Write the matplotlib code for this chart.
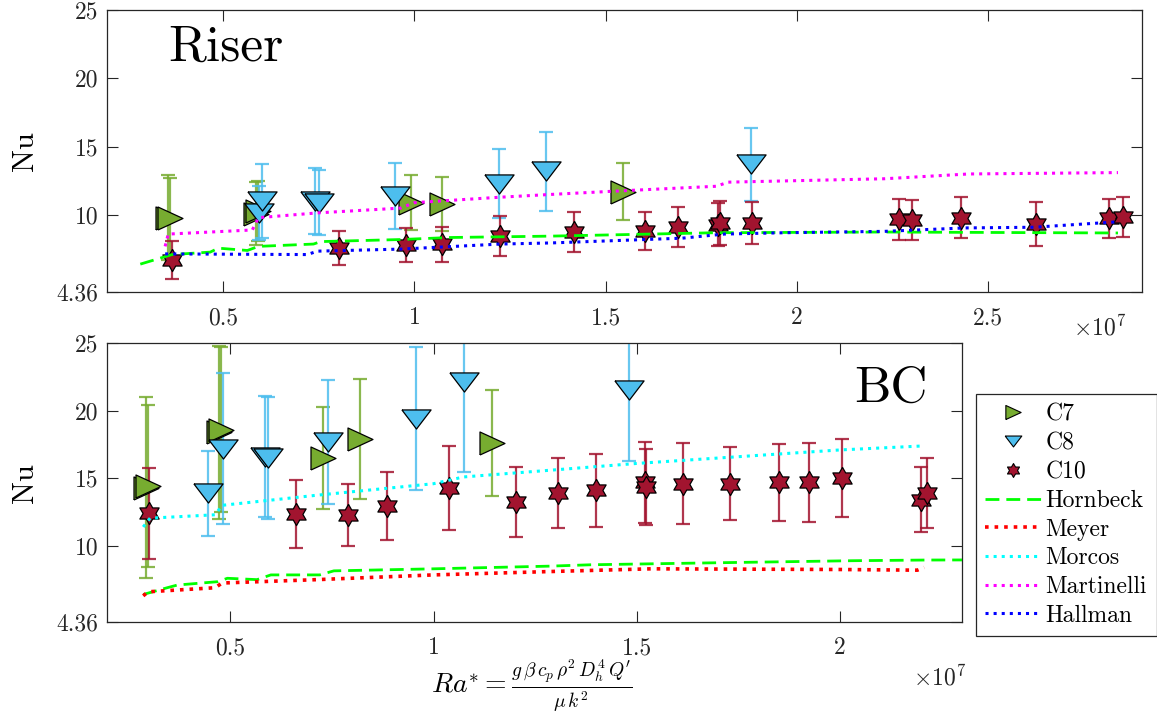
import numpy as np
import matplotlib as mpl
import matplotlib.pyplot as plt
from matplotlib.lines import Line2D

mpl.rcParams['font.family'] = 'serif'
mpl.rcParams['font.serif'] = ['cmr10', 'DejaVu Serif']
mpl.rcParams['mathtext.fontset'] = 'cm'
mpl.rcParams['axes.unicode_minus'] = False
mpl.rcParams['axes.formatter.use_mathtext'] = True

# Ra* in units of 1e7
# --- Riser ---
c7_r_x = [0.355, 0.360, 0.585, 0.592, 0.990, 1.073, 1.545]
c7_r_y = [9.8, 9.8, 10.1, 10.3, 10.9, 10.8, 11.7]
c7_r_e = [3.1, 2.9, 2.3, 2.2, 2.0, 2.0, 2.1]

c8_r_x = [0.594, 0.602, 0.740, 0.750, 0.948, 1.220, 1.343, 1.880]
c8_r_y = [10.15, 11.0, 11.0, 10.9, 11.4, 12.3, 13.2, 13.7]
c8_r_e = [1.95, 2.7, 2.4, 2.4, 2.4, 2.5, 2.9, 2.7]

c10_r_x = [0.366, 0.804, 0.979, 1.073, 1.223, 1.416, 1.602, 1.690, 1.793, 1.800,
           1.882, 2.267, 2.300, 2.430, 2.626, 2.817, 2.853]
c10_r_y = [6.7, 7.57, 7.8, 7.85, 8.45, 8.75, 8.8, 9.1, 9.3, 9.4,
           9.4, 9.7, 9.63, 9.8, 9.35, 9.75, 9.85]
c10_r_e = [1.4, 1.25, 1.25, 1.3, 1.45, 1.45, 1.4, 1.45, 1.6, 1.6,
           1.55, 1.5, 1.5, 1.5, 1.6, 1.45, 1.45]

hb_r_x = [0.283, 0.366, 0.466, 0.487, 0.563, 0.592, 0.736, 0.755, 0.963, 1.094, 1.356, 1.79, 2.23, 2.84]
hb_r_y = [6.4, 7.1, 7.28, 7.57, 7.4, 7.7, 7.87, 8.05, 8.2, 8.35, 8.45, 8.7, 8.75, 8.68]

hl_r_x = [0.348, 0.72, 0.746, 0.963, 1.07, 1.225, 1.356, 1.70, 1.81, 1.97, 2.23, 2.44, 2.62, 2.84]
hl_r_y = [7.15, 7.1, 7.35, 7.5, 7.65, 7.87, 7.95, 8.3, 8.6, 8.7, 8.8, 9.05, 9.1, 9.5]

mt_r_x = [0.348, 0.356, 0.576, 0.592, 0.746, 0.963, 1.0, 1.225, 1.356, 1.53, 1.79, 1.82, 2.23, 2.45, 2.84]
mt_r_y = [7.7, 8.6, 8.9, 9.8, 10.15, 10.5, 10.9, 11.3, 11.5, 11.75, 12.1, 12.4, 12.65, 13.0, 13.1]

# --- BC ---
c7_b_x = [0.293, 0.298, 0.472, 0.478, 0.727, 0.820, 1.143]
c7_b_y = [14.3, 14.4, 18.4, 18.6, 16.5, 17.9, 17.6]
c7_b_e = [6.7, 6.0, 6.4, 6.1, 3.8, 4.45, 3.9]

c8_b_x = [0.446, 0.483, 0.586, 0.593, 0.741, 0.956, 1.074, 1.480]
c8_b_y = [13.9, 17.2, 16.6, 16.5, 17.7, 19.4, 22.1, 21.5]
c8_b_e = [3.15, 5.6, 4.5, 4.5, 4.6, 5.3, 6.6, 5.2]

c10_b_x = [0.300, 0.663, 0.790, 0.886, 1.037, 1.204, 1.305, 1.400, 1.520, 1.522,
           1.613, 1.730, 1.850, 1.923, 2.005, 2.200, 2.214]
c10_b_y = [12.4, 12.35, 12.3, 12.95, 14.3, 13.25, 13.9, 14.1, 14.7, 14.35,
           14.6, 14.6, 14.7, 14.7, 15.0, 13.4, 13.9]
c10_b_e = [3.35, 2.5, 2.3, 2.55, 3.1, 2.6, 2.6, 2.7, 3.0, 2.8,
           3.0, 2.7, 2.85, 2.9, 2.9, 2.4, 2.6]

mc_b_x = [0.286, 0.303, 0.463, 0.480, 0.714, 1.0, 1.074, 1.288, 1.50, 2.0, 2.207]
mc_b_y = [11.4, 12.05, 12.3, 13.0, 13.75, 14.6, 15.1, 15.6, 16.1, 17.1, 17.4]

hb_b_x = [0.286, 0.345, 0.37, 0.47, 0.493, 0.566, 0.6, 0.72, 0.755, 1.0, 1.288, 1.387, 1.7, 2.03, 2.21, 2.85]
hb_b_y = [6.4, 6.9, 7.1, 7.35, 7.6, 7.5, 7.85, 7.85, 8.15, 8.3, 8.5, 8.6, 8.75, 8.9, 8.95, 9.0]

my_b_x = [0.286, 0.298, 0.463, 0.48, 0.714, 1.0, 1.288, 1.535, 2.0, 2.19, 2.207]
my_b_y = [6.3, 6.6, 6.9, 7.25, 7.5, 7.85, 8.1, 8.3, 8.25, 8.2, 8.4]

yticks = [4.36, 10, 15, 20, 25]
ytick_labels = ['4.36', '10', '15', '20', '25']
xticks_r = [0.5, 1, 1.5, 2, 2.5]
xticks_b = [0.5, 1, 1.5, 2]

col7 = '#77AC30'
col8 = '#4DBEEE'
col10 = '#A2142F'

tri_right = [(-12.5, -11.5), (-12.5, 11.5), (12.5, 0), (-12.5, -11.5)]
tri_down = [(-14.5, 9.5), (14.5, 9.5), (0, -9.5), (-14.5, 9.5)]
ang = np.pi / 2 + np.arange(12) * np.pi / 6
rad = np.where(np.arange(12) % 2 == 0, 1.0, 0.577)
hexagram = list(zip(rad * np.cos(ang), rad * np.sin(ang)))
hexagram.append(hexagram[0])


def draw_points(ax, x, y, e, col, mk, ms):
    ax.errorbar(x, y, yerr=e, fmt='none', ecolor=col, elinewidth=1.6,
                capsize=5, capthick=1.6, alpha=0.85, zorder=2)
    ax.plot(x, y, ls='none', marker=mk, ms=ms, mfc=col, mec='k', mew=0.9, zorder=3)


def style_axes(ax, xlim, xticks):
    ax.set_xlim(*xlim)
    ax.set_ylim(4.36, 25)
    ax.set_xticks(xticks)
    ax.set_xticklabels([f'{t:g}' for t in xticks])
    ax.set_yticks(yticks)
    ax.set_yticklabels(ytick_labels)
    ax.tick_params(direction='in', length=8, width=0.8, top=True, right=True,
                   labelsize=17, colors='#262626')
    ax.tick_params(axis='x', pad=11)
    ax.tick_params(axis='y', pad=6)
    for s in ax.spines.values():
        s.set_color('#262626')
        s.set_linewidth(0.9)
    ax.set_ylabel('Nu', fontsize=22, labelpad=13)


fig = plt.figure(figsize=(11.57, 7.15), dpi=100)
ax1 = fig.add_axes([0.0925, 0.5916, 0.8946, 0.3944])
ax2 = fig.add_axes([0.0925, 0.130, 0.739, 0.390])

# Riser
draw_points(ax1, c7_r_x, c7_r_y, c7_r_e, col7, tri_right, 18)
draw_points(ax1, c8_r_x, c8_r_y, c8_r_e, col8, tri_down, 21)
draw_points(ax1, c10_r_x, c10_r_y, c10_r_e, col10, hexagram, 16)
ax1.plot(hb_r_x, hb_r_y, color='#00FF00', ls=(0, (5, 2.5)), lw=2, zorder=4)
ax1.plot(mt_r_x, mt_r_y, color='#FF00FF', ls=':', lw=2.2, zorder=4)
ax1.plot(hl_r_x, hl_r_y, color='#0000FF', ls=':', lw=2.2, zorder=4)
style_axes(ax1, (0.196, 2.903), xticks_r)
ax1.text(0.059, 0.82, 'Riser', transform=ax1.transAxes, fontsize=37)
fig.text(1100 / 1157, 1 - 328 / 715, r'$\times 10^7$', fontsize=17,
         ha='center', va='center', color='#262626')

# BC
draw_points(ax2, c7_b_x, c7_b_y, c7_b_e, col7, tri_right, 18)
draw_points(ax2, c8_b_x, c8_b_y, c8_b_e, col8, tri_down, 21)
draw_points(ax2, c10_b_x, c10_b_y, c10_b_e, col10, hexagram, 16)
ax2.plot(hb_b_x, hb_b_y, color='#00FF00', ls=(0, (5, 2.5)), lw=2, zorder=4)
ax2.plot(my_b_x, my_b_y, color='#FF0000', ls=':', lw=2.6, zorder=4)
ax2.plot(mc_b_x, mc_b_y, color='#00FFFF', ls=':', lw=2.2, zorder=4)
style_axes(ax2, (0.197, 2.30), xticks_b)
ax2.text(0.96, 0.79, 'BC', transform=ax2.transAxes, fontsize=37, ha='right')
fig.text(532 / 1157, 1 - 686 / 715,
         r"$Ra^{*} = \frac{g\,\beta\,c_p\,\rho^2\,D_h^4\,Q'}{\mu\,k^2}$",
         fontsize=20, ha='center', va='center')
fig.text(940 / 1157, 1 - 678 / 715, r'$\times 10^7$', fontsize=17,
         ha='center', va='center', color='#262626')

handles = [
    Line2D([], [], ls='none', marker=tri_right, ms=11, mfc=col7, mec='k', mew=0.8),
    Line2D([], [], ls='none', marker=tri_down, ms=12, mfc=col8, mec='k', mew=0.8),
    Line2D([], [], ls='none', marker=hexagram, ms=10, mfc=col10, mec='k', mew=0.8),
    Line2D([], [], color='#00FF00', ls=(0, (5, 2.5)), lw=2),
    Line2D([], [], color='#FF0000', ls=':', lw=2.6),
    Line2D([], [], color='#00FFFF', ls=':', lw=2.2),
    Line2D([], [], color='#FF00FF', ls=':', lw=2.2),
    Line2D([], [], color='#0000FF', ls=':', lw=2.2),
]
labels = ['C7', 'C8', 'C10', 'Hornbeck', 'Meyer', 'Morcos', 'Martinelli', 'Hallman']
leg = fig.legend(handles, labels, loc='upper left',
                 bbox_to_anchor=(976 / 1157, 1 - 394 / 715), borderaxespad=0,
                 fontsize=17, fancybox=False, edgecolor='#262626', framealpha=1,
                 handlelength=2.35, handletextpad=0.2, labelspacing=0.28,
                 borderpad=0.4)
leg.get_frame().set_linewidth(0.9)

fig.savefig('out.png', dpi=100)
